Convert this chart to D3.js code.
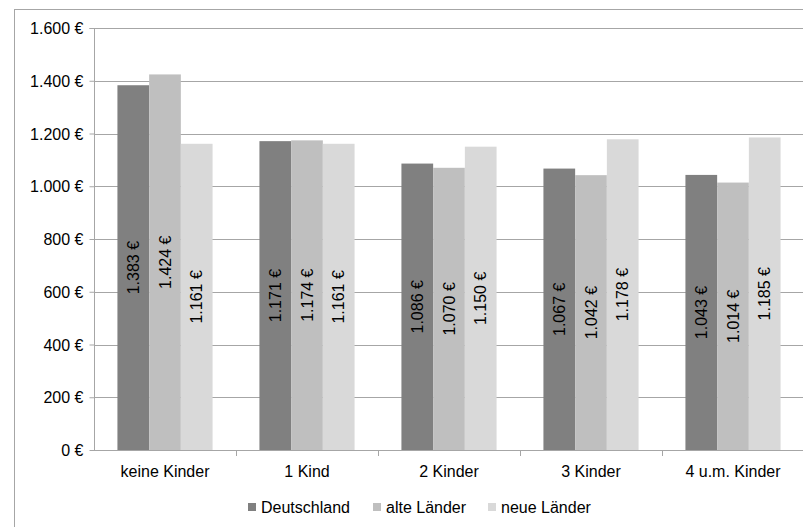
<!DOCTYPE html>
<html>
<head>
<meta charset="utf-8">
<script src="https://cdn.jsdelivr.net/npm/d3@7"></script>
<style>
  body { margin: 0; background: #fff; }
  text { font-family: "Liberation Sans", Arial, sans-serif; fill: #000; }
</style>
</head>
<body>
<div id="chart"></div>
<script>
// data
var categories = ["keine Kinder", "1 Kind", "2 Kinder", "3 Kinder", "4 u.m. Kinder"];
var seriesNames = ["Deutschland", "alte Länder", "neue Länder"];
var deutschland = [1383, 1171, 1086, 1067, 1043];
var alteLaender = [1424, 1174, 1070, 1042, 1014];
var neueLaender = [1161, 1161, 1150, 1178, 1185];
var yTicks = [0, 200, 400, 600, 800, 1000, 1200, 1400, 1600];
var colors = ["#808080", "#bfbfbf", "#d9d9d9"];

const width = 803, height = 527;
const margin = {left: 94, top: 28, right: -1, bottom: 77};

var svg = d3.select("#chart").append("svg")
    .attr("width", width)
    .attr("height", height);

// chart border
svg.append("rect")
    .attr("x", 14.5).attr("y", 9.5)
    .attr("width", 820).attr("height", 540)
    .attr("fill", "none")
    .attr("stroke", "#a6a6a6");

var x = d3.scaleBand()
    .domain(categories)
    .range([margin.left, width - margin.right])
    .paddingInner(0.33).paddingOuter(0.165);
var x0 = d3.scaleBand()
    .domain(categories)
    .range([margin.left, width - margin.right]);
var xs = d3.scaleBand().domain(seriesNames).range([0, x.bandwidth()]);

var y = d3.scaleLinear()
    .domain([0, 1600])
    .range([height - margin.bottom, margin.top]);

var fmt = function(v) {
    return d3.format(",")(v).replace(/,/g, ".") + " €";
};

// gridlines
svg.append("g").selectAll("line")
    .data(yTicks.slice(1))
    .enter().append("line")
    .attr("x1", margin.left).attr("x2", width)
    .attr("y1", function(d) { return Math.round(y(d)) + 0.5; })
    .attr("y2", function(d) { return Math.round(y(d)) + 0.5; })
    .attr("stroke", "#a6a6a6");

// y axis
var yAxis = svg.append("g")
    .attr("transform", "translate(" + (margin.left + 0.5) + ",0.5)")
    .call(d3.axisLeft(y).tickValues(yTicks).tickSize(5).tickPadding(6).tickFormat(fmt));
yAxis.select(".domain").attr("stroke", "#a6a6a6").attr("d", "M-5," + Math.round(y(1600)) + "H0V" + Math.round(y(0)));
yAxis.selectAll(".tick line").attr("stroke", "#a6a6a6").attr("transform", "translate(0,-0.5)");
yAxis.selectAll(".tick text").style("font-size", "16px").attr("fill", "#000");

var data = [deutschland, alteLaender, neueLaender];

// bars
var groups = svg.append("g").selectAll("g")
    .data(seriesNames)
    .enter().append("g");

groups.selectAll("rect")
    .data(function(s, i) {
        return categories.map(function(c, j) { return {s: s, i: i, c: c, v: data[i][j]}; });
    })
    .enter().append("rect")
    .attr("x", function(d) { return x(d.c) + xs(d.s); })
    .attr("width", xs.bandwidth())
    .attr("y", function(d) { return y(d.v); })
    .attr("height", function(d) { return y(0) - y(d.v); })
    .attr("fill", function(d) { return colors[d.i]; });

// value labels (rotated)
groups.selectAll("text")
    .data(function(s, i) {
        return categories.map(function(c, j) { return {s: s, i: i, c: c, v: data[i][j]}; });
    })
    .enter().append("text")
    .attr("transform", function(d) {
        var cx = x(d.c) + xs(d.s) + xs.bandwidth() / 2;
        var cy = (y(d.v) + y(0)) / 2;
        return "translate(" + cx + "," + cy + ") rotate(-90)";
    })
    .attr("text-anchor", "middle")
    .attr("dy", "0.35em")
    .style("font-size", "16px")
    .text(function(d) { return fmt(d.v); });

// x axis
var xAxis = svg.append("g")
    .attr("transform", "translate(0," + (Math.round(y(0)) + 0.5) + ")")
    .call(d3.axisBottom(x0).tickSize(0).tickPadding(15));
xAxis.select(".domain").attr("stroke", "#a6a6a6").attr("d", "M" + margin.left + ",0H" + width);
xAxis.selectAll(".tick text").style("font-size", "16px").attr("fill", "#000");
svg.append("g").selectAll("line")
    .data(categories.slice(1))
    .enter().append("line")
    .attr("x1", function(d) { return Math.round(x0(d)) + 0.5; })
    .attr("x2", function(d) { return Math.round(x0(d)) + 0.5; })
    .attr("y1", Math.round(y(0)))
    .attr("y2", Math.round(y(0)) + 6)
    .attr("stroke", "#a6a6a6");

// legend
var legendX = [248, 373, 488];
var legend = svg.append("g").selectAll("g")
    .data(seriesNames)
    .enter().append("g")
    .attr("transform", function(d, i) { return "translate(" + legendX[i] + ",507)"; });
legend.append("rect")
    .attr("x", 0).attr("y", -4)
    .attr("width", 8).attr("height", 8)
    .attr("fill", function(d, i) { return colors[i]; });
legend.append("text")
    .attr("x", 13).attr("dy", "0.35em")
    .style("font-size", "16px")
    .text(function(d) { return d; });
</script>
</body>
</html>
